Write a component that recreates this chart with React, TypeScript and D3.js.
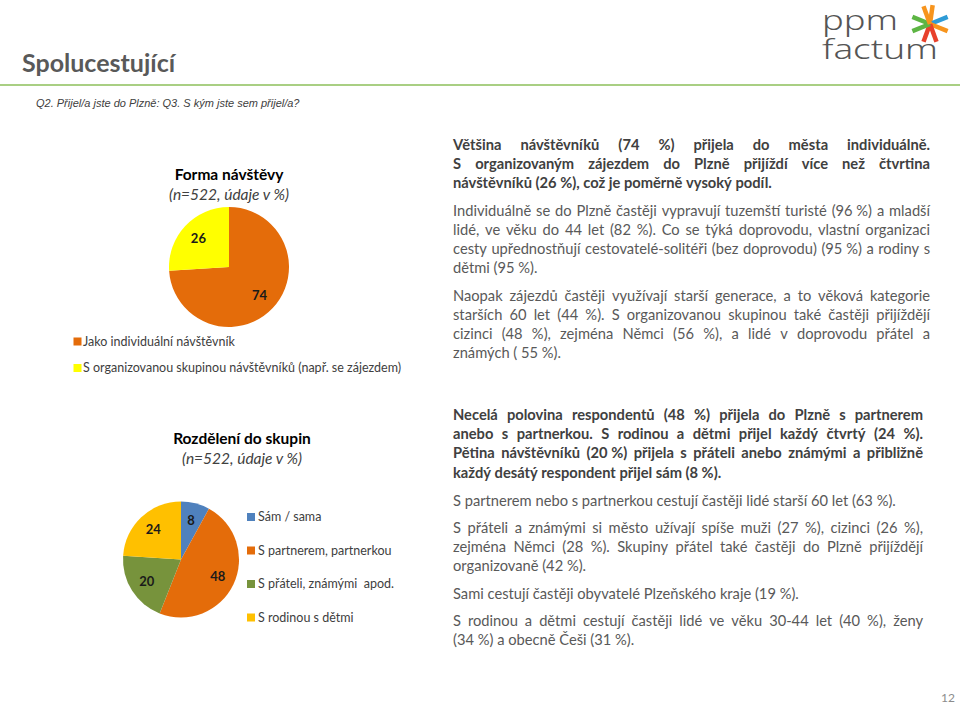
import React from 'react'
import * as d3 from 'd3'

// data
const formaLabels = ['Jako individuální návštěvník', 'S organizovanou skupinou návštěvníků (např. se zájezdem)']
const formaValues = [74, 26]
const formaColors = ['#E46C0A', '#FFFF00']

const skupinyLabels = ['Sám / sama', 'S partnerem, partnerkou', 'S přáteli, známými  apod.', 'S rodinou s dětmi']
const skupinyValues = [8, 48, 20, 24]
const skupinyColors = ['#4F81BD', '#E46C0A', '#77933C', '#FFC000']

const textTop: { bold: boolean, lines: string[] }[] = [
    {
        bold: true, lines: [
            'Většina návštěvníků (74 %) přijela do města individuálně.',
            'S organizovaným zájezdem do Plzně přijíždí více než čtvrtina',
            'návštěvníků (26\u00a0%), což je poměrně vysoký podíl.',
        ]
    },
    {
        bold: false, lines: [
            'Individuálně se do Plzně častěji vypravují tuzemští turisté (96\u00a0%) a mladší',
            'lidé, ve věku do 44 let (82 %). Co se týká doprovodu, vlastní organizaci',
            'cesty upřednostňují cestovatelé-solitéři (bez doprovodu) (95\u00a0%) a rodiny s',
            'dětmi (95\u00a0%).',
        ]
    },
    {
        bold: false, lines: [
            'Naopak zájezdů častěji využívají starší generace, a to věková kategorie',
            'starších 60 let (44 %). S organizovanou skupinou také častěji přijíždějí',
            'cizinci (48 %), zejména Němci (56 %), a lidé v doprovodu přátel a',
            'známých ( 55\u00a0%).',
        ]
    },
]

const textBottom: { bold: boolean, lines: string[] }[] = [
    {
        bold: true, lines: [
            'Necelá polovina respondentů (48 %) přijela do Plzně s partnerem',
            'anebo s partnerkou. S rodinou a dětmi přijel každý čtvrtý (24 %).',
            'Pětina návštěvníků (20\u00a0%) přijela s přáteli anebo známými a přibližně',
            'každý desátý respondent přijel sám (8\u00a0%).',
        ]
    },
    { bold: false, lines: ['S partnerem nebo s partnerkou cestují častěji lidé starší 60 let (63\u00a0%).'] },
    {
        bold: false, lines: [
            'S přáteli a známými si město užívají spíše muži (27 %), cizinci (26 %),',
            'zejména Němci (28 %). Skupiny přátel také častěji do Plzně přijíždějí',
            'organizovaně (42\u00a0%).',
        ]
    },
    { bold: false, lines: ['Sami cestují častěji obyvatelé Plzeňského kraje (19\u00a0%).'] },
    {
        bold: false, lines: [
            'S rodinou a dětmi cestují častěji lidé ve věku 30-44 let (40 %), ženy',
            '(34\u00a0%) a obecně Češi (31\u00a0%).',
        ]
    },
]

const FONT = 'Lato, Carlito, sans-serif'
const TEXT_SIZE = 14.7

let ctx: CanvasRenderingContext2D | null = null
function measure(s: string, bold: boolean) {
    if (!ctx) ctx = document.createElement('canvas').getContext('2d')
    ctx!.font = `${bold ? 'bold ' : ''}${TEXT_SIZE}px Lato`
    return ctx!.measureText(s).width
}

// justified paragraph, last line left aligned
function Para({ lines, bold, x, y, width, lh }: { lines: string[], bold: boolean, x: number, y: number, width: number, lh: number }) {
    const space = measure(' ', bold)
    return <g fontFamily={FONT} fontSize={TEXT_SIZE} fontWeight={bold ? 'bold' : 'normal'} fill={bold ? '#404040' : '#595959'}>
        {lines.map((line, li) => {
            const words = line.split(' ')
            const ws = words.map(w => measure(w, bold))
            const total = d3.sum(ws)
            const last = li === lines.length - 1
            let gap = last || words.length < 2 ? space : (width - total) / (words.length - 1)
            let k = 1
            if (gap < space * 0.6) {
                gap = space * 0.6
                k = width / (total + gap * (words.length - 1))
            }
            let cx = 0
            return <text key={li} transform={`translate(${x},${y + li * lh}) scale(${k},1)`}>
                {words.map((w, wi) => {
                    const px = cx
                    cx += ws[wi] + gap
                    return <tspan key={wi} x={px}>{w}</tspan>
                })}
            </text>
        })}
    </g>
}

function Block({ paras, x, y, width, lh, gaps }: { paras: { bold: boolean, lines: string[] }[], x: number, y: number, width: number, lh: number, gaps: number[] }) {
    let cy = y
    return <g>
        {paras.map((p, i) => {
            const py = cy
            cy += p.lines.length * lh + (gaps[i] ?? 8)
            return <Para key={i} lines={p.lines} bold={p.bold} x={x} y={py} width={width} lh={lh} />
        })}
    </g>
}

function Pie({ values, colors, cx, cy, r }: { values: number[], colors: string[], cx: number, cy: number, r: number }) {
    const arcs = d3.pie<number>().sort(null).value(d => d)(values)
    const arc = d3.arc<d3.PieArcDatum<number>>().innerRadius(0).outerRadius(r)
    const labelArc = d3.arc<d3.PieArcDatum<number>>().innerRadius(r * 0.7).outerRadius(r * 0.7)
    return <g transform={`translate(${cx},${cy})`}>
        {arcs.map((a, i) => <path key={i} d={arc(a) || ''} fill={colors[i]} />)}
        {arcs.map((a, i) => {
            const [lx, ly] = labelArc.centroid(a)
            return <text key={i} x={lx} y={ly} dy="0.35em" textAnchor="middle" fontFamily={FONT}
                fontWeight="bold" fontSize={13} fill="#1a1a1a">{values[i]}</text>
        })}
    </g>
}

function Logo() {
    const arms = [
        { a: 8, c: '#F7941D' }, { a: 68, c: '#2E9BD6' }, { a: 112, c: '#F7941D' }, { a: 160, c: '#E8412C' },
        { a: 200, c: '#E8412C' }, { a: 248, c: '#5DB544' }, { a: 292, c: '#5DB544' }, { a: 340, c: '#F7941D' },
    ]
    const cx = 930, cy = 24, len = 19
    return <g>
        <text x={822} y={30} fontFamily="'Noto Sans', sans-serif" fontWeight={300} fontSize={27} fill="#555"
            textLength={76} lengthAdjust="spacingAndGlyphs">ppm</text>
        <text x={822} y={59} fontFamily="'Noto Sans', sans-serif" fontWeight={300} fontSize={27} fill="#555"
            textLength={116} lengthAdjust="spacingAndGlyphs">factum</text>
        {arms.map((d, i) => {
            const rad = d.a * Math.PI / 180
            return <line key={i} x1={cx} y1={cy} x2={cx + Math.sin(rad) * len} y2={cy - Math.cos(rad) * len}
                stroke={d.c} strokeWidth={4.5} strokeLinecap="butt" />
        })}
    </g>
}

export default function App() {
    const legend1Y = [341.5, 368]
    const legend2Y = d3.range(skupinyLabels.length).map(i => 517 + i * 33.5)
    return <svg width={960} height={704} style={{ position: 'absolute', left: 0, top: 0, background: '#fff' }}>
        <rect width={960} height={704} fill="#fff" />
        <text x={22} y={72} fontFamily={FONT} fontWeight="bold" fontSize={25} fill="#595959">Spolucestující</text>
        <line x1={0} x2={960} y1={85} y2={85} stroke="#8DBF5A" strokeWidth={1.5} />
        <text x={36} y={107} fontFamily="'Liberation Sans', Arial, sans-serif" fontStyle="italic" fontSize={11} fill="#404040">Q2. Přijel/a jste do Plzně: Q3. S kým jste sem přijel/a?</text>
        <Logo />

        {/* Forma návštěvy */}
        <text x={229} y={180} textAnchor="middle" fontFamily={FONT} fontWeight="bold" fontSize={15.5} fill="#000">Forma návštěvy</text>
        <text x={229} y={200} textAnchor="middle" fontFamily={FONT} fontStyle="italic" fontSize={15.5} fill="#404040">(n=522, údaje v %)</text>
        <Pie values={formaValues} colors={formaColors} cx={229} cy={267} r={60} />
        {formaLabels.map((l, i) => <g key={i}>
            <rect x={73.5} y={legend1Y[i] - 4} width={8} height={8} fill={formaColors[i]} />
            <text x={83} y={legend1Y[i]} dy="0.35em" fontFamily={FONT} fontSize={12.5} fill="#404040">{l}</text>
        </g>)}

        {/* Rozdělení do skupin */}
        <text x={242} y={444} textAnchor="middle" fontFamily={FONT} fontWeight="bold" fontSize={15.5} fill="#000">Rozdělení do skupin</text>
        <text x={242} y={464} textAnchor="middle" fontFamily={FONT} fontStyle="italic" fontSize={15.5} fill="#404040">(n=522, údaje v %)</text>
        <Pie values={skupinyValues} colors={skupinyColors} cx={181} cy={559.5} r={58} />
        {skupinyLabels.map((l, i) => <g key={i}>
            <rect x={247} y={legend2Y[i] - 4} width={8} height={8} fill={skupinyColors[i]} />
            <text x={258} y={legend2Y[i]} dy="0.35em" fontFamily={FONT} fontSize={12.5} fill="#404040" style={{ whiteSpace: 'pre' }}>{l}</text>
        </g>)}

        <Block paras={textTop} x={453} y={150} width={477} lh={19} gaps={[9, 9]} />
        <Block paras={textBottom} x={453} y={420} width={470} lh={19.2} gaps={[9, 8, 8, 8]} />

        <text x={955} y={702} textAnchor="end" fontFamily={FONT} fontSize={12} fill="#8c8c8c">12</text>
    </svg>
}
